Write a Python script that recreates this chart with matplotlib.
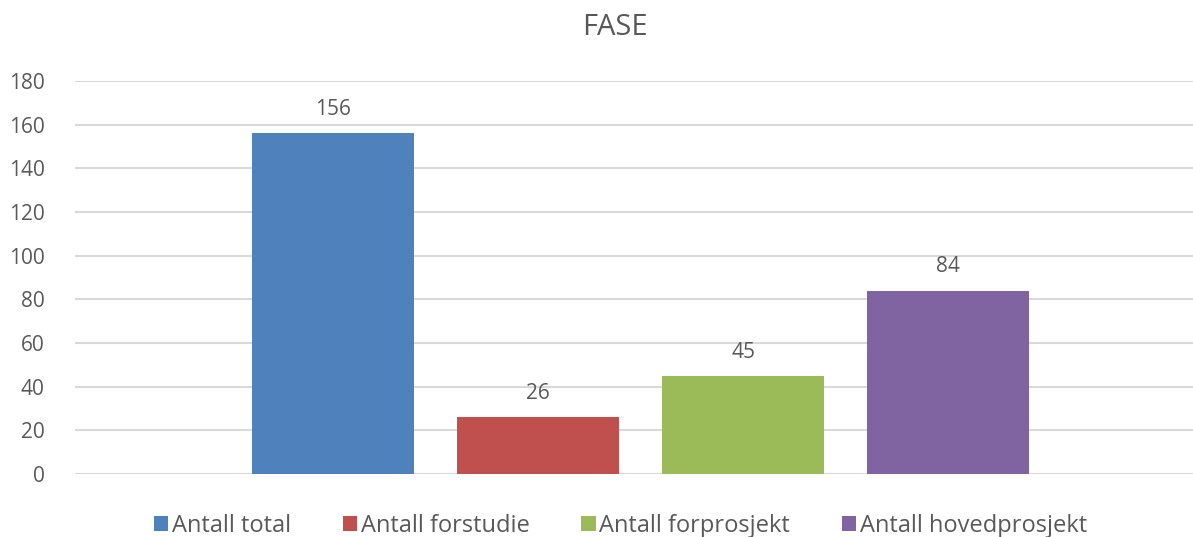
import matplotlib
matplotlib.use("Agg")
import matplotlib.pyplot as plt
from matplotlib.patches import Patch

series = ["Antall total", "Antall forstudie", "Antall forprosjekt", "Antall hovedprosjekt"]
values = [156, 26, 45, 84]
colors = ["#4F81BD", "#C0504D", "#9BBB59", "#8064A2"]
yticks = [0, 20, 40, 60, 80, 100, 120, 140, 160, 180]

plt.rcParams['font.family'] = ['Open Sans', 'DejaVu Sans']
text_color = "#595959"

fig = plt.figure(figsize=(11.93, 5.37), dpi=100)
ax = fig.add_axes([75 / 1193, 63 / 537, 1118 / 1193, 393 / 537])

x = list(range(len(values)))
ax.bar(x, values, width=0.79, color=colors, zorder=3)
for xi, v in zip(x, values):
    ax.text(xi, v + 6, str(v), ha="center", va="bottom", fontsize=15, color=text_color)

ax.set_xlim(-1.259, 4.195)
ax.set_ylim(0, 180)
ax.set_yticks(yticks)
ax.set_xticks([])
ax.grid(axis="y", color="#d9d9d9", linewidth=1.5, zorder=0)
ax.tick_params(axis="y", length=0, pad=22, labelsize=15, labelcolor=text_color)
for s in ax.spines.values():
    s.set_visible(False)

fig.text(615 / 1193, 1 - 28 / 537, "FASE", ha="center", va="center", fontsize=21, color=text_color)

handles = [Patch(facecolor=c, label=l) for c, l in zip(colors, series)]
fig.legend(handles=handles, loc="center", bbox_to_anchor=(0.52, 1 - 526 / 537), ncol=4,
           frameon=False, fontsize=17, labelcolor=text_color, handlelength=0.6, handleheight=0.6,
           handletextpad=0.15, columnspacing=2.2)

fig.savefig("out.png", dpi=100)
